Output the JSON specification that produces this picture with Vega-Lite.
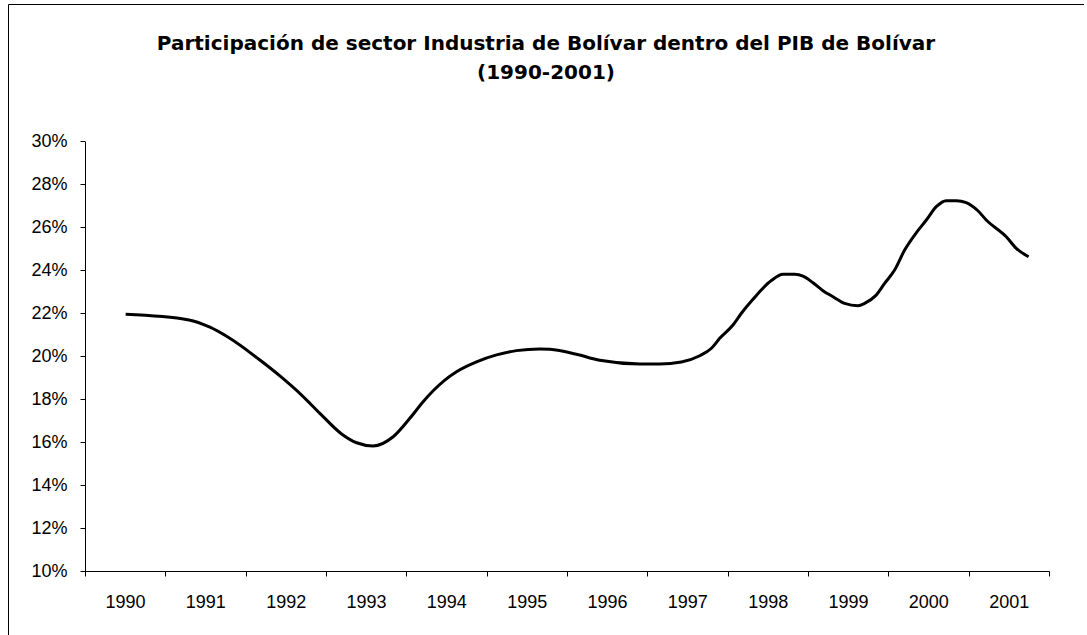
{
  "$schema": "https://vega.github.io/schema/vega-lite/v6.json",
  "width": 1076,
  "height": 633,
  "autosize": {"type": "none"},
  "padding": {"left": 8, "top": 4, "right": 0, "bottom": -2},
  "background": "#ffffff",
  "config": {
    "view": {"stroke": "#000000", "strokeWidth": 1},
    "axis": {
      "labelFont": "Liberation Sans",
      "labelFontSize": 18,
      "labelColor": "#000000",
      "tickColor": "#000000",
      "domainColor": "#000000",
      "tickSize": 5,
      "grid": false,
      "title": null
    }
  },
  "title": {
    "text": ["Participación de sector Industria de Bolívar dentro del PIB de Bolívar", "(1990-2001)"],
    "font": "DejaVu Sans",
    "fontSize": 20,
    "fontWeight": "bold",
    "color": "#000000",
    "lineHeight": 29,
    "anchor": "middle",
    "offset": -79
  },
  "data": {
    "values": [
      {"t": 0.506, "share": 0.2195},
      {"t": 1.294, "share": 0.2169},
      {"t": 1.555, "share": 0.2135},
      {"t": 1.783, "share": 0.2088},
      {"t": 2.177, "share": 0.1982},
      {"t": 2.426, "share": 0.1908},
      {"t": 2.696, "share": 0.1819},
      {"t": 2.924, "share": 0.1734},
      {"t": 3.194, "share": 0.1638},
      {"t": 3.381, "share": 0.1597},
      {"t": 3.587, "share": 0.1582},
      {"t": 3.836, "share": 0.1625},
      {"t": 4.044, "share": 0.1711},
      {"t": 4.209, "share": 0.1788},
      {"t": 4.334, "share": 0.1839},
      {"t": 4.479, "share": 0.1889},
      {"t": 4.625, "share": 0.1928},
      {"t": 4.874, "share": 0.1974},
      {"t": 5.123, "share": 0.2006},
      {"t": 5.371, "share": 0.2026},
      {"t": 5.661, "share": 0.2034},
      {"t": 5.786, "share": 0.2032},
      {"t": 6.118, "share": 0.2009},
      {"t": 6.408, "share": 0.1981},
      {"t": 6.906, "share": 0.1964},
      {"t": 7.154, "share": 0.1964},
      {"t": 7.424, "share": 0.1973},
      {"t": 7.652, "share": 0.2002},
      {"t": 7.798, "share": 0.2037},
      {"t": 7.901, "share": 0.2083},
      {"t": 8.066, "share": 0.2145},
      {"t": 8.171, "share": 0.2200},
      {"t": 8.315, "share": 0.2265},
      {"t": 8.544, "share": 0.2352},
      {"t": 8.689, "share": 0.2381},
      {"t": 8.834, "share": 0.2381},
      {"t": 8.938, "share": 0.2373},
      {"t": 9.062, "share": 0.2342},
      {"t": 9.186, "share": 0.2305},
      {"t": 9.311, "share": 0.2277},
      {"t": 9.456, "share": 0.2246},
      {"t": 9.622, "share": 0.2235},
      {"t": 9.705, "share": 0.2246},
      {"t": 9.842, "share": 0.2282},
      {"t": 9.954, "share": 0.2339},
      {"t": 10.078, "share": 0.2401},
      {"t": 10.203, "share": 0.2494},
      {"t": 10.327, "share": 0.2564},
      {"t": 10.473, "share": 0.2634},
      {"t": 10.597, "share": 0.2696},
      {"t": 10.722, "share": 0.2724},
      {"t": 10.846, "share": 0.2724},
      {"t": 10.970, "share": 0.2715},
      {"t": 11.115, "share": 0.2677},
      {"t": 11.219, "share": 0.2634},
      {"t": 11.468, "share": 0.2556},
      {"t": 11.593, "share": 0.2502},
      {"t": 11.746, "share": 0.2463}
    ]
  },
  "mark": {"type": "line", "color": "#000000", "strokeWidth": 3, "interpolate": "monotone"},
  "encoding": {
    "x": {
      "field": "t",
      "type": "quantitative",
      "scale": {"domain": [0, 12], "range": [77, 1041], "nice": false, "zero": false},
      "axis": {
        "values": [0, 1, 2, 3, 4, 5, 6, 7, 8, 9, 10, 11, 12],
        "labelExpr": "datum.value < 12 ? '' + (1990 + datum.value) : ''",
        "labelOffset": 40,
        "labelPadding": 17,
        "labelFlush": false,
        "labelOverlap": false,
        "labelBound": false,
        "offset": -66
      }
    },
    "y": {
      "field": "share",
      "type": "quantitative",
      "scale": {"domain": [0.1, 0.3], "range": [567, 137.4], "nice": false, "zero": false},
      "axis": {
        "values": [0.1, 0.12, 0.14, 0.16, 0.18, 0.2, 0.22, 0.24, 0.26, 0.28, 0.3],
        "format": ".0%",
        "labelPadding": 13,
        "labelOverlap": false,
        "labelFlush": false,
        "offset": -77
      }
    }
  }
}
